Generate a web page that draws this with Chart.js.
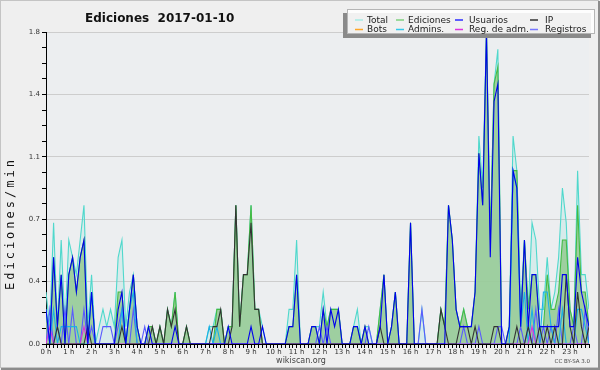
<!DOCTYPE html>
<html>
<head>
<meta charset="utf-8">
<script src="https://cdn.jsdelivr.net/npm/chart.js@4.4.1/dist/chart.umd.min.js"></script>
<style>
html, body { margin: 0; padding: 0; background: #efefef; }
#grafico { display: block; }
</style>
</head>
<body>
<canvas id="grafico" width="600" height="370"></canvas>
<script>
// Dados: uma posição a cada 10 minutos (144 por dia), em edições/min
const horas = ['0 h', '1 h', '2 h', '3 h', '4 h', '5 h', '6 h', '7 h', '8 h', '9 h', '10 h', '11 h',
               '12 h', '13 h', '14 h', '15 h', '16 h', '17 h', '18 h', '19 h', '20 h', '21 h', '22 h', '23 h'];

const total = [
    0.3, 0.1, 0.7, 0.1, 0.6, 0.1,  0.6, 0.5, 0.4, 0.6, 0.8, 0.1,
    0.4, 0, 0.1, 0.2, 0.1, 0.2,    0.1, 0.5, 0.6, 0.1, 0.3, 0.4,
    0.1, 0, 0, 0.1, 0.1, 0,        0.1, 0, 0.2, 0.1, 0.3, 0,
    0, 0.1, 0, 0, 0, 0,            0, 0.1, 0.1, 0.2, 0.2, 0,
    0.1, 0.1, 0.8, 0.1, 0.4, 0.4,  0.8, 0.2, 0.2, 0.1, 0, 0,
    0, 0, 0, 0, 0.2, 0.2,          0.6, 0, 0, 0, 0.1, 0.1,
    0.1, 0.3, 0.1, 0.2, 0.2, 0.2,  0, 0, 0, 0.1, 0.2, 0,
    0.1, 0.1, 0, 0, 0.2, 0.4,      0, 0.1, 0.3, 0, 0, 0,
    0.7, 0, 0, 0.2, 0, 0,          0, 0, 0.2, 0.1, 0.8, 0.6,
    0.2, 0.1, 0.2, 0.1, 0.1, 0.3,  1.2, 0.9, 1.8, 0.6, 1.5, 1.7,
    0, 0, 0.1, 1.2, 1.0, 0.2,      0.6, 0.2, 0.7, 0.6, 0.2, 0.2,
    0.5, 0.2, 0.3, 0.5, 0.9, 0.7,  0.2, 0.1, 1.0, 0.4, 0.4, 0.2
];

const edicoes = [
    0.2, 0, 0.5, 0.1, 0.4, 0,      0.4, 0.5, 0.3, 0.5, 0.6, 0,
    0.3, 0, 0, 0, 0, 0,            0, 0.3, 0.3, 0, 0.2, 0.4,
    0.1, 0, 0, 0.1, 0.1, 0,        0.1, 0, 0.2, 0.1, 0.3, 0,
    0, 0.1, 0, 0, 0, 0,            0, 0, 0, 0.2, 0.2, 0,
    0.1, 0.1, 0.8, 0.1, 0.4, 0.4,  0.8, 0.2, 0.2, 0, 0, 0,
    0, 0, 0, 0, 0.1, 0.1,          0.4, 0, 0, 0, 0.1, 0.1,
    0, 0.2, 0.1, 0.2, 0.2, 0.2,    0, 0, 0, 0.1, 0.1, 0,
    0.1, 0, 0, 0, 0.2, 0.4,        0, 0.1, 0.3, 0, 0, 0,
    0.7, 0, 0, 0, 0, 0,            0, 0, 0.2, 0.1, 0.8, 0.6,
    0.2, 0.1, 0.2, 0.1, 0.1, 0.3,  1.1, 0.8, 1.8, 0.6, 1.5, 1.6,
    0, 0, 0.1, 1.0, 1.0, 0.1,      0.6, 0.2, 0.4, 0.4, 0.1, 0.1,
    0.4, 0.2, 0.2, 0.3, 0.6, 0.6,  0.2, 0.1, 0.8, 0.3, 0.3, 0.1
];

const usuarios = [
    0.2, 0, 0.5, 0.1, 0.4, 0,      0.4, 0.5, 0.3, 0.5, 0.6, 0,
    0.3, 0, 0, 0, 0, 0,            0, 0.2, 0.3, 0, 0.2, 0.4,
    0.1, 0, 0, 0.1, 0, 0,          0, 0, 0, 0, 0.1, 0,
    0, 0, 0, 0, 0, 0,              0, 0, 0, 0, 0, 0,
    0.1, 0, 0, 0, 0, 0,            0.1, 0, 0, 0.1, 0, 0,
    0, 0, 0, 0, 0.1, 0.1,          0.4, 0, 0, 0, 0.1, 0.1,
    0, 0.2, 0, 0.2, 0.1, 0.2,      0, 0, 0, 0.1, 0.1, 0,
    0.1, 0, 0, 0, 0.1, 0.4,        0, 0.1, 0.3, 0, 0, 0,
    0.7, 0, 0, 0, 0, 0,            0, 0, 0, 0, 0.8, 0.6,
    0.2, 0.1, 0.1, 0.1, 0.1, 0.3,  1.1, 0.8, 1.8, 0.5, 1.4, 1.5,
    0, 0, 0.1, 1.0, 0.9, 0.1,      0.6, 0.1, 0.4, 0.4, 0.1, 0.1,
    0.1, 0.1, 0.1, 0.1, 0.4, 0.4,  0.1, 0.1, 0.5, 0.3, 0.2, 0.1
];

const ip = [
    0, 0, 0, 0.1, 0, 0,            0, 0, 0, 0, 0, 0.1,
    0, 0, 0, 0, 0, 0,              0, 0, 0.1, 0, 0, 0,
    0, 0, 0, 0, 0.1, 0,            0.1, 0, 0.2, 0.1, 0.2, 0,
    0, 0.1, 0, 0, 0, 0,            0, 0, 0.1, 0.1, 0.2, 0,
    0, 0.1, 0.8, 0.1, 0.4, 0.4,    0.7, 0.2, 0.2, 0, 0, 0,
    0, 0, 0, 0, 0, 0,              0, 0, 0, 0, 0, 0,
    0, 0, 0, 0, 0, 0,              0, 0, 0, 0, 0, 0,
    0, 0, 0, 0, 0.1, 0,            0, 0, 0, 0, 0, 0,
    0, 0, 0, 0, 0, 0,              0, 0, 0.2, 0.1, 0, 0,
    0, 0.1, 0.1, 0.1, 0, 0.1,      0, 0, 0, 0, 0.1, 0.1,
    0, 0, 0, 0, 0.1, 0,            0, 0.1, 0, 0, 0.1, 0,
    0.1, 0, 0.1, 0, 0, 0.4,        0.1, 0, 0.3, 0.1, 0, 0.1
];

const bots = [];

const admins = [
    0.2, 0, 0.2, 0, 0.1, 0.1,      0.1, 0.1, 0.1, 0, 0, 0,
    0.3, 0, 0, 0, 0, 0,            0, 0, 0.2, 0, 0.2, 0.3,
    0, 0, 0, 0, 0, 0,              0, 0, 0, 0, 0, 0,
    0, 0, 0, 0, 0, 0,              0, 0.1, 0, 0.1, 0, 0,
    0, 0, 0, 0, 0, 0,              0, 0, 0, 0, 0, 0,
    0, 0, 0, 0, 0, 0,              0, 0, 0, 0, 0, 0,
    0, 0, 0, 0, 0, 0,              0, 0, 0, 0, 0, 0,
    0, 0, 0, 0, 0, 0,              0, 0, 0, 0, 0, 0,
    0, 0, 0, 0, 0, 0,              0, 0, 0, 0, 0, 0,
    0, 0, 0, 0, 0, 0,              0, 0, 0, 0, 0, 0,
    0, 0, 0, 1.0, 0.9, 0.1,        0.3, 0, 0.2, 0, 0, 0.3,
    0.3, 0.1, 0, 0, 0.2, 0,        0, 0, 0.2, 0.2, 0.1, 0
];

const regAdm = [
    0, 0.1, 0, 0, 0, 0,            0, 0, 0, 0, 0.1, 0,
    0, 0, 0, 0, 0, 0,              0, 0, 0, 0, 0, 0,
    0, 0, 0, 0, 0, 0,              0, 0, 0, 0, 0, 0,
    0, 0, 0, 0, 0, 0,              0, 0, 0, 0, 0, 0,
    0, 0, 0, 0, 0, 0,              0, 0, 0, 0, 0, 0,
    0, 0, 0, 0, 0, 0,              0, 0, 0, 0, 0, 0,
    0, 0, 0, 0, 0, 0,              0, 0, 0, 0, 0, 0,
    0, 0, 0, 0, 0, 0,              0, 0, 0, 0, 0, 0,
    0, 0, 0, 0, 0, 0,              0, 0, 0, 0, 0, 0,
    0, 0, 0, 0, 0, 0,              0, 0, 0, 0, 0, 0,
    0, 0, 0, 0, 0, 0,              0, 0, 0.1, 0, 0, 0,
    0, 0, 0, 0, 0, 0,              0, 0, 0, 0, 0, 0
];

const registros = [
    0, 0.2, 0, 0.1, 0, 0.2,        0, 0.2, 0, 0, 0.2, 0,
    0.1, 0, 0, 0.1, 0.1, 0.1,      0, 0.1, 0.2, 0, 0, 0.2,
    0, 0, 0.1, 0, 0, 0,            0, 0, 0, 0, 0, 0,
    0, 0, 0, 0, 0, 0,              0, 0, 0, 0, 0, 0,
    0, 0, 0, 0, 0, 0,              0, 0, 0, 0, 0, 0,
    0, 0, 0, 0, 0, 0,              0, 0, 0, 0, 0, 0,
    0.1, 0, 0.1, 0, 0, 0,          0, 0, 0, 0, 0, 0,
    0, 0.1, 0, 0, 0, 0,            0, 0, 0, 0, 0, 0,
    0, 0, 0, 0.2, 0, 0,            0, 0, 0, 0, 0, 0,
    0, 0, 0.1, 0, 0, 0,            0.1, 0, 0, 0, 0, 0.1,
    0.1, 0, 0, 0, 0, 0.1,          0, 0.1, 0, 0.2, 0, 0.1,
    0, 0.1, 0, 0.2, 0, 0,          0, 0.1, 0, 0, 0.2, 0
];

// Ordem da legenda (duas linhas de quatro)
const ordemLegenda = ['Total', 'Ediciones', 'Usuarios', 'IP', 'Bots', 'Admins.', 'Reg. de adm.', 'Registros'];

// Converte a série em pontos {x, y} para a escala linear
function pontos(serie) {
    return serie.map((v, i) => ({ x: i, y: v }));
}

// Fundo da figura e da área do gráfico
const pluginFundo = {
    id: 'fundo',
    beforeDraw(chart) {
        const { ctx, chartArea: a } = chart;
        ctx.save();
        ctx.fillStyle = '#efefef';
        ctx.fillRect(0, 0, chart.width, chart.height);
        ctx.fillStyle = '#eceef0';
        ctx.fillRect(a.left, a.top, a.right - a.left, a.bottom - a.top);
        ctx.restore();
    }
};

// Título, rótulo do eixo, legenda e rodapé
const pluginTextos = {
    id: 'textos',
    afterDraw(chart) {
        const ctx = chart.ctx;
        ctx.save();

        // Título
        ctx.fillStyle = '#111';
        ctx.font = 'bold 12px "DejaVu Sans"';
        ctx.textBaseline = 'alphabetic';
        ctx.textAlign = 'left';
        ctx.fillText('Ediciones  2017-01-10', 85, 22);

        // Rótulo do eixo Y (espaçado, de baixo para cima)
        ctx.save();
        ctx.translate(13.5, 290);
        ctx.rotate(-Math.PI / 2);
        ctx.font = '12px "DejaVu Sans Mono"';
        ctx.fillStyle = '#111';
        let px = 0;
        for (const ch of 'Ediciones/min') {
            ctx.fillText(ch, px, 0);
            px += ctx.measureText(ch).width + 3;
        }
        ctx.restore();

        // Legenda
        ctx.fillStyle = '#8a8a8a';
        ctx.fillRect(343, 13, 248, 25);
        ctx.fillStyle = 'rgba(255,255,255,0.88)';
        ctx.fillRect(347, 9, 248, 25);
        ctx.strokeStyle = '#b5b5b5';
        ctx.lineWidth = 1;
        ctx.strokeRect(347.5, 9.5, 247, 24);

        const colTexto = [367, 408, 469, 545];
        const colTraco = [355, 396, 455, 530];
        const linhas = [20, 29.5];
        ctx.font = '9px "DejaVu Sans"';
        ctx.textBaseline = 'middle';
        ordemLegenda.forEach((nome, i) => {
            const ds = chart.data.datasets.find(d => d.label === nome);
            const c = i % 4, l = Math.floor(i / 4);
            ctx.strokeStyle = ds.corLegenda;
            ctx.lineWidth = 1.5;
            ctx.beginPath();
            ctx.moveTo(colTraco[c], linhas[l]);
            ctx.lineTo(colTraco[c] + 8, linhas[l]);
            ctx.stroke();
            ctx.fillStyle = '#222';
            ctx.fillText(nome, colTexto[c], linhas[l] + 0.5);
        });

        // Rodapé
        ctx.fillStyle = '#444';
        ctx.textAlign = 'center';
        ctx.font = '8px "DejaVu Sans"';
        ctx.fillText('wikiscan.org', 301, 361);
        ctx.textAlign = 'right';
        ctx.font = '5.5px "DejaVu Sans"';
        ctx.fillText('CC BY-SA 3.0', 590, 362);

        // Moldura
        ctx.strokeStyle = '#c4c4c4';
        ctx.lineWidth = 1;
        ctx.strokeRect(0.5, 0.5, 598, 367);
        ctx.strokeStyle = '#8c8c8c';
        ctx.lineWidth = 2;
        ctx.beginPath();
        ctx.moveTo(1, 369);
        ctx.lineTo(599, 369);
        ctx.lineTo(599, 1);
        ctx.stroke();
        ctx.restore();
    }
};

function serieLinha(label, dados, cor, ordem, extra) {
    return Object.assign({
        label: label,
        data: pontos(dados),
        borderColor: cor,
        corLegenda: cor,
        borderWidth: 1.1,
        pointRadius: 0,
        tension: 0,
        fill: false,
        order: ordem
    }, extra || {});
}

const ctx = document.getElementById('grafico');
new Chart(ctx, {
    type: 'line',
    data: {
        datasets: [
            serieLinha('Total', total, '#4fd8cc', 8, {
                fill: 'origin',
                backgroundColor: 'rgba(80, 216, 204, 0.13)',
                corLegenda: '#a6ebe4'
            }),
            serieLinha('Ediciones', edicoes, '#44bb44', 7, {
                fill: 'origin',
                backgroundColor: 'rgba(152, 204, 152, 0.9)',
                corLegenda: '#7fd07f'
            }),
            serieLinha('Registros', registros, '#5a5aff', 6, { corLegenda: '#7777ff' }),
            serieLinha('Admins.', admins, '#1ab0e6', 5, { corLegenda: '#35c8ea' }),
            serieLinha('Reg. de adm.', regAdm, '#dd33dd', 4),
            serieLinha('Bots', bots, '#ff9900', 3, { corLegenda: '#ffa626' }),
            serieLinha('IP', ip, '#333333', 2),
            serieLinha('Usuarios', usuarios, '#0000ee', 1, { corLegenda: '#2b2bff' })
        ]
    },
    options: {
        responsive: false,
        devicePixelRatio: 1,
        animation: false,
        layout: { padding: { left: 0, right: 11, top: 32, bottom: 12 } },
        plugins: {
            legend: { display: false },
            tooltip: { enabled: false },
            title: { display: false }
        },
        scales: {
            x: {
                type: 'linear',
                min: 0,
                max: 143,
                afterBuildTicks: scale => {
                    scale.ticks = [];
                    for (let i = 0; i <= 143; i++) scale.ticks.push({ value: i });
                },
                afterFit: scale => { scale.height = 14; },
                grid: {
                    drawOnChartArea: false,
                    drawTicks: true,
                    tickLength: 4,
                    tickColor: '#000'
                },
                border: { color: '#000', width: 1 },
                ticks: {
                    autoSkip: false,
                    maxRotation: 0,
                    padding: 0,
                    color: '#333',
                    font: { family: 'DejaVu Sans', size: 7 },
                    callback: (valor) => (valor % 6 === 0 ? horas[valor / 6] : '')
                }
            },
            y: {
                min: 0,
                max: 1.8,
                afterBuildTicks: scale => {
                    scale.ticks = [];
                    for (let k = 0; k <= 20; k++) scale.ticks.push({ value: k * 0.09 });
                },
                afterFit: scale => { scale.width = 46; },
                grid: {
                    color: c => (c.index % 4 === 0 && c.index > 0 ? '#cdcdcd' : 'rgba(0,0,0,0)'),
                    lineWidth: 1,
                    drawTicks: true,
                    tickLength: 4,
                    tickColor: '#000'
                },
                border: { color: '#000', width: 1 },
                ticks: {
                    autoSkip: false,
                    padding: 2,
                    color: '#333',
                    font: { family: 'DejaVu Sans', size: 7 },
                    callback: (valor, indice) => (indice % 4 === 0 ? (indice * 0.09).toFixed(1) : '')
                }
            }
        }
    },
    plugins: [pluginFundo, pluginTextos]
});
</script>
</body>
</html>
